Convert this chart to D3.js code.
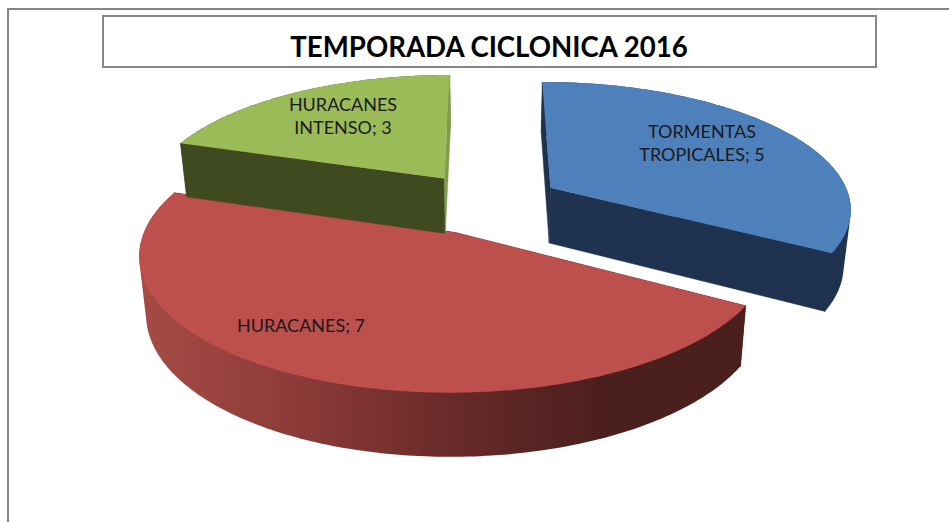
<!DOCTYPE html>
<html>
<head>
<meta charset="utf-8">
<script src="https://cdn.jsdelivr.net/npm/d3@7"></script>
<style>
  html, body { margin: 0; padding: 0; background: #fff; }
  svg { display: block; }
  text { font-family: Lato, "Open Sans", sans-serif; }
</style>
</head>
<body>
<div id="chart"></div>
<script>
const title = 'TEMPORADA CICLONICA 2016';
const categories = ['TORMENTAS TROPICALES', 'HURACANES', 'HURACANES INTENSO'];
const values = [5, 7, 3];

const topColors = ['#4e80bc', '#bd4f4c', '#9bbb59'];
const startWallColors = ['#1f3350', '#4b1f1d', '#404a21'];
const endWallColors = ['#1f3350', '#4b1f1d', '#7f9d48'];
const rimColors = ['#1f3350', 'url(#redRim)', '#404a21'];
const labelPos = [[702, 144], [301, 326], [343, 117]];

const width = 949, height = 522;
const explode = 0.248;   // slice pull-out, in pie radii
const tilt = 0.151;      // perspective strength

const svg = d3.select('#chart').append('svg')
    .attr('width', width)
    .attr('height', height);

// Gradient on the red outer wall
const grad = svg.append('defs').append('linearGradient')
    .attr('id', 'redRim')
    .attr('gradientUnits', 'userSpaceOnUse')
    .attr('x1', 140).attr('x2', 600).attr('y1', 0).attr('y2', 0);
[[0, '#a64b45'], [0.35, '#8c3a38'], [0.68, '#682a29'], [1, '#4b1f1d']].forEach(s => {
    grad.append('stop').attr('offset', s[0]).attr('stop-color', s[1]);
});

// Frame
svg.append('path')
    .attr('d', d3.line()([[8, height], [8, 9], [width, 9]]))
    .attr('fill', 'none')
    .attr('stroke', '#868686')
    .attr('stroke-width', 2);

svg.append('rect')
    .attr('x', 103).attr('y', 16)
    .attr('width', 773).attr('height', 51)
    .attr('fill', '#fff')
    .attr('stroke', '#868686')
    .attr('stroke-width', 2);

svg.append('text')
    .attr('x', 489).attr('y', 57)
    .attr('text-anchor', 'middle')
    .attr('font-size', 27.6)
    .attr('font-weight', 700)
    .attr('fill', '#000')
    .text(title);

// Scales for the top and bottom plane of the pie (before perspective divide)
const xTop = d3.scaleLinear().domain([-1, 1]).range([487 - 301, 487 + 301]);
const yTop = d3.scaleLinear().domain([-1, 1]).range([203 - 126, 203 + 126]);
const xBottom = d3.scaleLinear().domain([-1, 1]).range([487 - 295, 487 + 295]);
const yBottom = d3.scaleLinear().domain([-1, 1]).range([259 - 131.4, 259 + 131.4]);

function project(p, bottom) {
    const w = 1 - tilt * p[1];
    const sx = bottom ? xBottom : xTop;
    const sy = bottom ? yBottom : yTop;
    return [sx(p[0] / w), sy(p[1] / w)];
}

const pie = d3.pie().sort(null).startAngle(0).endAngle(2 * Math.PI);
const slices = pie(values);
const line = d3.line();

slices.forEach((d, i) => {
    const mid = (d.startAngle + d.endAngle) / 2;
    const apex = [explode * Math.sin(mid), -explode * Math.cos(mid)];
    const n = Math.ceil((d.endAngle - d.startAngle) * 60);
    const rim = d3.range(n + 1).map(k => {
        const a = d.startAngle + (d.endAngle - d.startAngle) * k / n;
        return [apex[0] + Math.sin(a), apex[1] - Math.cos(a)];
    });
    const g = svg.append('g').attr('class', 'slice');

    // outer wall, hull so the silhouette runs straight between both planes
    const hull = d3.polygonHull(rim.map(p => project(p, false)).concat(rim.map(p => project(p, true))));
    g.append('path')
        .attr('d', line(hull) + 'Z')
        .attr('fill', rimColors[i]);

    // radial walls
    const first = rim[0], last = rim[n];
    g.append('path')
        .attr('d', line([project(apex), project(first), project(first, true), project(apex, true)]) + 'Z')
        .attr('fill', startWallColors[i])
        .attr('stroke', startWallColors[i])
        .attr('stroke-width', 0.5);
    g.append('path')
        .attr('d', line([project(apex), project(last), project(last, true), project(apex, true)]) + 'Z')
        .attr('fill', endWallColors[i])
        .attr('stroke', endWallColors[i])
        .attr('stroke-width', 0.5);

    // top face
    g.append('path')
        .attr('d', line([project(apex)].concat(rim.map(p => project(p)))) + 'Z')
        .attr('fill', topColors[i]);
});

// Data labels
categories.forEach((c, i) => {
    const words = c.split(' ');
    words[words.length - 1] += '; ' + values[i];
    const label = svg.append('text')
        .attr('text-anchor', 'middle')
        .attr('font-size', 18)
        .attr('fill', '#1a1a1a');
    const y0 = labelPos[i][1] - (words.length - 1) * 11.5 + 5.5;
    words.forEach((w, k) => {
        label.append('tspan')
            .attr('x', labelPos[i][0])
            .attr('y', y0 + k * 23)
            .text(w);
    });
});
</script>
</body>
</html>
